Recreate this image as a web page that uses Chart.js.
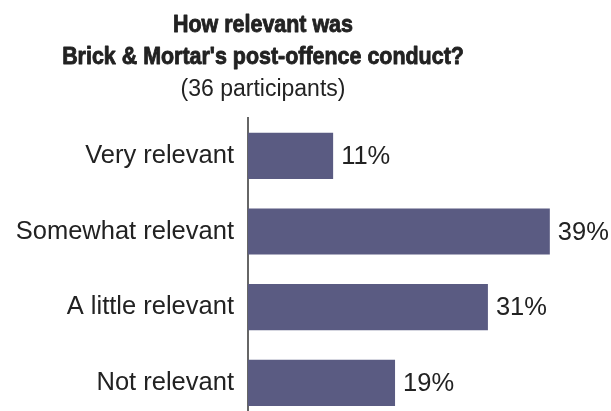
<!DOCTYPE html>
<html>
<head>
<meta charset="utf-8">
<script src="https://cdn.jsdelivr.net/npm/chart.js@4"></script>
<style>
  html, body { margin: 0; padding: 0; background: #fff; overflow: hidden; }
  canvas { display: block; }
</style>
</head>
<body>
<!-- canvas is taller than the window; the plot runs past the bottom edge -->
<canvas id="relevanceChart" width="611" height="442"></canvas>
<script>
// Survey answers, share of participants (%)
const categories = ['Very relevant', 'Somewhat relevant', 'A little relevant', 'Not relevant'];
const shares = [11, 39, 31, 19];
const titleLines = ['How relevant was', "Brick & Mortar's post-offence conduct?"];
const subtitleText = '(36 participants)';

const barColor = '#5a5b82';
const textColor = '#222222';
const fontFamily = '"Liberation Sans", Arial, sans-serif';
const labelFont = { family: fontFamily, size: 25.5 };

// Heading drawn by hand so the bold lines can be set condensed and heavy
const heading = {
    id: 'heading',
    afterDraw(chart) {
        const ctx = chart.ctx;
        const cx = 263;
        ctx.save();
        ctx.fillStyle = textColor;
        ctx.strokeStyle = textColor;
        ctx.lineWidth = 0.9;
        ctx.lineJoin = 'round';
        ctx.textAlign = 'center';
        ctx.textBaseline = 'alphabetic';
        ctx.font = `bold 24.5px ${fontFamily}`;
        [32, 64].forEach((y, i) => {
            ctx.save();
            ctx.translate(cx, y);
            ctx.scale(0.875, 1);
            ctx.fillText(titleLines[i], 0, 0);
            ctx.strokeText(titleLines[i], 0, 0);
            ctx.restore();
        });
        ctx.font = `23px ${fontFamily}`;
        ctx.fillText(subtitleText, cx, 96);
        ctx.restore();
    }
};

// Percent labels at the end of each bar
const valueLabels = {
    id: 'valueLabels',
    afterDatasetsDraw(chart) {
        const ctx = chart.ctx;
        const meta = chart.getDatasetMeta(0);
        ctx.save();
        ctx.font = `${labelFont.size}px ${labelFont.family}`;
        ctx.fillStyle = textColor;
        ctx.textAlign = 'left';
        ctx.textBaseline = 'middle';
        meta.data.forEach((bar, i) => {
            ctx.fillText(shares[i] + '%', bar.x + 8, bar.y + 1);
        });
        ctx.restore();
    }
};

const ctx = document.getElementById('relevanceChart').getContext('2d');
const relevanceChart = new Chart(ctx, {
    type: 'bar',
    data: {
        labels: categories,
        datasets: [{
            data: shares,
            backgroundColor: barColor,
            borderWidth: 0,
            barPercentage: 0.61,
            categoryPercentage: 1
        }]
    },
    options: {
        indexAxis: 'y',
        responsive: false,
        animation: false,
        layout: {
            padding: { left: 0, right: 7, top: 118, bottom: 0 }
        },
        scales: {
            x: {
                display: false,
                min: 0,
                max: 46
            },
            y: {
                grid: { display: false },
                border: { display: true, color: '#666666', width: 2 },
                ticks: {
                    color: textColor,
                    font: labelFont,
                    padding: 6
                },
                afterFit(scale) {
                    scale.width = 248;
                }
            }
        },
        plugins: {
            legend: { display: false },
            tooltip: { enabled: false },
            title: { display: false }
        }
    },
    plugins: [valueLabels, heading]
});
</script>
</body>
</html>
